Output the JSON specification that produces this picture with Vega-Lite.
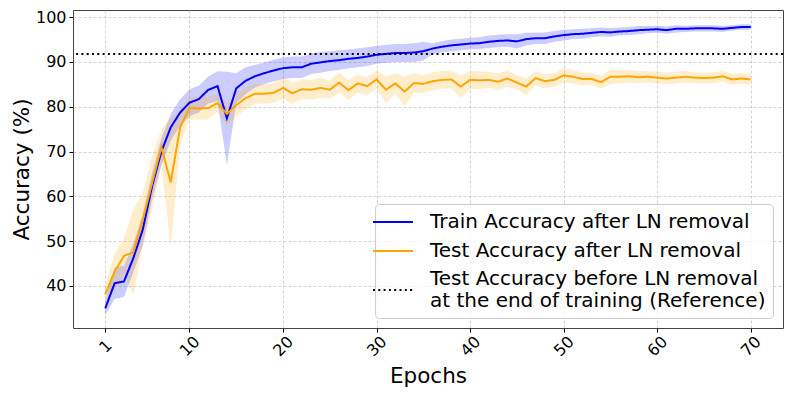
{
  "$schema": "https://vega.github.io/schema/vega-lite/v6.json",
  "width": 710,
  "height": 318,
  "autosize": {"type": "none"},
  "padding": {"left": 73, "top": 10, "right": 10, "bottom": 69},
  "datasets": {
    "m": [
      {"e":1,"s":"train","a":35.0,"lo":33.5,"hi":36.5},
      {"e":2,"s":"train","a":40.6,"lo":37.1,"hi":44.1},
      {"e":3,"s":"train","a":41.0,"lo":37.5,"hi":44.5},
      {"e":4,"s":"train","a":46.2,"lo":43.0,"hi":49.4},
      {"e":5,"s":"train","a":52.5,"lo":49.0,"hi":56.0},
      {"e":6,"s":"train","a":62.2,"lo":59.2,"hi":65.2},
      {"e":7,"s":"train","a":70.0,"lo":67.0,"hi":73.0},
      {"e":8,"s":"train","a":75.4,"lo":72.4,"hi":78.4},
      {"e":9,"s":"train","a":78.7,"lo":75.7,"hi":81.7},
      {"e":10,"s":"train","a":80.9,"lo":77.9,"hi":83.9},
      {"e":11,"s":"train","a":81.7,"lo":78.7,"hi":84.7},
      {"e":12,"s":"train","a":83.75,"lo":80.75,"hi":86.75},
      {"e":13,"s":"train","a":84.6,"lo":81.3,"hi":87.9},
      {"e":14,"s":"train","a":77.4,"lo":67.0,"hi":87.8},
      {"e":15,"s":"train","a":84.1,"lo":80.7,"hi":87.5},
      {"e":16,"s":"train","a":85.8,"lo":82.8,"hi":88.8},
      {"e":17,"s":"train","a":86.8,"lo":84.3,"hi":89.3},
      {"e":18,"s":"train","a":87.5,"lo":85.1,"hi":89.9},
      {"e":19,"s":"train","a":88.1,"lo":85.7,"hi":90.5},
      {"e":20,"s":"train","a":88.6,"lo":86.2,"hi":91.0},
      {"e":21,"s":"train","a":88.8,"lo":86.4,"hi":91.2},
      {"e":22,"s":"train","a":88.8,"lo":86.4,"hi":91.2},
      {"e":23,"s":"train","a":89.6,"lo":87.3,"hi":91.9},
      {"e":24,"s":"train","a":89.9,"lo":87.6,"hi":92.2},
      {"e":25,"s":"train","a":90.2,"lo":88.0,"hi":92.4},
      {"e":26,"s":"train","a":90.4,"lo":88.2,"hi":92.6},
      {"e":27,"s":"train","a":90.7,"lo":88.6,"hi":92.8},
      {"e":28,"s":"train","a":90.9,"lo":88.8,"hi":93.0},
      {"e":29,"s":"train","a":91.2,"lo":89.1,"hi":93.3},
      {"e":30,"s":"train","a":91.6,"lo":89.6,"hi":93.6},
      {"e":31,"s":"train","a":91.8,"lo":89.8,"hi":93.8},
      {"e":32,"s":"train","a":92.0,"lo":90.0,"hi":94.0},
      {"e":33,"s":"train","a":92.0,"lo":90.0,"hi":94.0},
      {"e":34,"s":"train","a":92.1,"lo":90.0,"hi":94.2},
      {"e":35,"s":"train","a":92.4,"lo":90.3,"hi":94.5},
      {"e":36,"s":"train","a":93.0,"lo":91.8,"hi":94.2},
      {"e":37,"s":"train","a":93.4,"lo":92.1,"hi":94.7},
      {"e":38,"s":"train","a":93.7,"lo":92.4,"hi":95.0},
      {"e":39,"s":"train","a":93.9,"lo":92.6,"hi":95.2},
      {"e":40,"s":"train","a":94.1,"lo":92.8,"hi":95.4},
      {"e":41,"s":"train","a":94.2,"lo":92.9,"hi":95.5},
      {"e":42,"s":"train","a":94.5,"lo":93.1,"hi":95.9},
      {"e":43,"s":"train","a":94.7,"lo":93.3,"hi":96.1},
      {"e":44,"s":"train","a":94.8,"lo":93.4,"hi":96.2},
      {"e":45,"s":"train","a":94.6,"lo":93.0,"hi":96.2},
      {"e":46,"s":"train","a":95.1,"lo":93.7,"hi":96.5},
      {"e":47,"s":"train","a":95.3,"lo":94.0,"hi":96.6},
      {"e":48,"s":"train","a":95.3,"lo":94.0,"hi":96.6},
      {"e":49,"s":"train","a":95.7,"lo":94.5,"hi":96.9},
      {"e":50,"s":"train","a":96.0,"lo":94.8,"hi":97.2},
      {"e":51,"s":"train","a":96.2,"lo":95.1,"hi":97.3},
      {"e":52,"s":"train","a":96.3,"lo":95.2,"hi":97.4},
      {"e":53,"s":"train","a":96.5,"lo":95.5,"hi":97.5},
      {"e":54,"s":"train","a":96.7,"lo":95.7,"hi":97.7},
      {"e":55,"s":"train","a":96.6,"lo":95.6,"hi":97.6},
      {"e":56,"s":"train","a":96.8,"lo":95.9,"hi":97.7},
      {"e":57,"s":"train","a":96.9,"lo":96.0,"hi":97.8},
      {"e":58,"s":"train","a":97.1,"lo":96.2,"hi":98.0},
      {"e":59,"s":"train","a":97.2,"lo":96.4,"hi":98.0},
      {"e":60,"s":"train","a":97.3,"lo":96.5,"hi":98.1},
      {"e":61,"s":"train","a":97.1,"lo":96.3,"hi":97.9},
      {"e":62,"s":"train","a":97.4,"lo":96.6,"hi":98.2},
      {"e":63,"s":"train","a":97.4,"lo":96.7,"hi":98.1},
      {"e":64,"s":"train","a":97.5,"lo":96.8,"hi":98.2},
      {"e":65,"s":"train","a":97.5,"lo":96.8,"hi":98.2},
      {"e":66,"s":"train","a":97.5,"lo":96.8,"hi":98.2},
      {"e":67,"s":"train","a":97.4,"lo":96.7,"hi":98.1},
      {"e":68,"s":"train","a":97.6,"lo":97.0,"hi":98.2},
      {"e":69,"s":"train","a":97.8,"lo":97.2,"hi":98.4},
      {"e":70,"s":"train","a":97.8,"lo":97.2,"hi":98.4},
      {"e":1,"s":"test","a":38.1,"lo":36.1,"hi":40.1},
      {"e":2,"s":"test","a":43.2,"lo":39.2,"hi":47.2},
      {"e":3,"s":"test","a":46.7,"lo":42.7,"hi":50.7},
      {"e":4,"s":"test","a":47.5,"lo":38.0,"hi":57.0},
      {"e":5,"s":"test","a":54.7,"lo":48.7,"hi":60.7},
      {"e":6,"s":"test","a":62.9,"lo":56.9,"hi":68.9},
      {"e":7,"s":"test","a":71.0,"lo":67.0,"hi":75.0},
      {"e":8,"s":"test","a":63.1,"lo":48.8,"hi":77.4},
      {"e":9,"s":"test","a":75.4,"lo":71.4,"hi":79.4},
      {"e":10,"s":"test","a":79.7,"lo":77.2,"hi":82.2},
      {"e":11,"s":"test","a":79.6,"lo":77.1,"hi":82.1},
      {"e":12,"s":"test","a":79.7,"lo":77.2,"hi":82.2},
      {"e":13,"s":"test","a":80.8,"lo":78.8,"hi":82.8},
      {"e":14,"s":"test","a":78.4,"lo":75.9,"hi":80.9},
      {"e":15,"s":"test","a":80.4,"lo":77.9,"hi":82.9},
      {"e":16,"s":"test","a":81.9,"lo":79.4,"hi":84.4},
      {"e":17,"s":"test","a":82.9,"lo":80.7,"hi":85.1},
      {"e":18,"s":"test","a":82.9,"lo":80.7,"hi":85.1},
      {"e":19,"s":"test","a":83.1,"lo":80.9,"hi":85.3},
      {"e":20,"s":"test","a":84.2,"lo":81.8,"hi":86.6},
      {"e":21,"s":"test","a":83.0,"lo":80.6,"hi":85.4},
      {"e":22,"s":"test","a":83.9,"lo":81.7,"hi":86.1},
      {"e":23,"s":"test","a":83.8,"lo":81.6,"hi":86.0},
      {"e":24,"s":"test","a":84.2,"lo":82.0,"hi":86.4},
      {"e":25,"s":"test","a":83.8,"lo":81.8,"hi":85.8},
      {"e":26,"s":"test","a":85.4,"lo":83.2,"hi":87.6},
      {"e":27,"s":"test","a":83.7,"lo":81.5,"hi":85.9},
      {"e":28,"s":"test","a":85.2,"lo":83.2,"hi":87.2},
      {"e":29,"s":"test","a":84.6,"lo":82.6,"hi":86.6},
      {"e":30,"s":"test","a":86.1,"lo":84.1,"hi":88.1},
      {"e":31,"s":"test","a":83.8,"lo":80.8,"hi":86.8},
      {"e":32,"s":"test","a":85.2,"lo":83.0,"hi":87.4},
      {"e":33,"s":"test","a":83.4,"lo":80.1,"hi":86.7},
      {"e":34,"s":"test","a":85.3,"lo":83.1,"hi":87.5},
      {"e":35,"s":"test","a":85.1,"lo":83.1,"hi":87.1},
      {"e":36,"s":"test","a":85.7,"lo":83.7,"hi":87.7},
      {"e":37,"s":"test","a":86.0,"lo":84.0,"hi":88.0},
      {"e":38,"s":"test","a":86.1,"lo":84.1,"hi":88.1},
      {"e":39,"s":"test","a":84.5,"lo":82.0,"hi":87.0},
      {"e":40,"s":"test","a":86.0,"lo":84.0,"hi":88.0},
      {"e":41,"s":"test","a":85.9,"lo":83.9,"hi":87.9},
      {"e":42,"s":"test","a":86.0,"lo":84.2,"hi":87.8},
      {"e":43,"s":"test","a":85.6,"lo":83.8,"hi":87.4},
      {"e":44,"s":"test","a":86.3,"lo":84.5,"hi":88.1},
      {"e":45,"s":"test","a":85.4,"lo":83.8,"hi":87.0},
      {"e":46,"s":"test","a":84.5,"lo":82.7,"hi":86.3},
      {"e":47,"s":"test","a":86.4,"lo":84.8,"hi":88.0},
      {"e":48,"s":"test","a":85.7,"lo":84.1,"hi":87.3},
      {"e":49,"s":"test","a":86.0,"lo":84.5,"hi":87.5},
      {"e":50,"s":"test","a":87.0,"lo":85.4,"hi":88.6},
      {"e":51,"s":"test","a":86.7,"lo":85.2,"hi":88.2},
      {"e":52,"s":"test","a":86.2,"lo":84.8,"hi":87.6},
      {"e":53,"s":"test","a":86.2,"lo":84.8,"hi":87.6},
      {"e":54,"s":"test","a":85.5,"lo":84.1,"hi":86.9},
      {"e":55,"s":"test","a":86.7,"lo":85.1,"hi":88.3},
      {"e":56,"s":"test","a":86.7,"lo":85.2,"hi":88.2},
      {"e":57,"s":"test","a":86.8,"lo":85.4,"hi":88.2},
      {"e":58,"s":"test","a":86.6,"lo":85.3,"hi":87.9},
      {"e":59,"s":"test","a":86.7,"lo":85.4,"hi":88.0},
      {"e":60,"s":"test","a":86.5,"lo":85.2,"hi":87.8},
      {"e":61,"s":"test","a":86.3,"lo":85.0,"hi":87.6},
      {"e":62,"s":"test","a":86.5,"lo":85.2,"hi":87.8},
      {"e":63,"s":"test","a":86.7,"lo":85.4,"hi":88.0},
      {"e":64,"s":"test","a":86.5,"lo":85.3,"hi":87.7},
      {"e":65,"s":"test","a":86.4,"lo":85.2,"hi":87.6},
      {"e":66,"s":"test","a":86.5,"lo":85.3,"hi":87.7},
      {"e":67,"s":"test","a":86.8,"lo":85.6,"hi":88.0},
      {"e":68,"s":"test","a":86.1,"lo":84.9,"hi":87.3},
      {"e":69,"s":"test","a":86.3,"lo":85.1,"hi":87.5},
      {"e":70,"s":"test","a":86.1,"lo":84.9,"hi":87.3}
    ],
    "r": [
      {"s": "ref", "a": 91.75}
    ]
  },
  "layer": [
    {
      "data": {"name": "m"},
      "mark": {"type": "area", "opacity": 0.2},
      "encoding": {
        "x": {"field": "e", "type": "quantitative",
          "scale": {"domain": [-2.45, 73.45], "nice": false, "zero": false},
          "axis": {"values": [1, 10, 20, 30, 40, 50, 60, 70], "labelAngle": -45, "labelAlign": "center", "labelBaseline": "middle", "labelPadding": 14, "labelFlush": false, "labelOverlap": false, "title": "Epochs", "titleY": 54, "titleBaseline": "alphabetic"}},
        "y": {"field": "lo", "type": "quantitative",
          "scale": {"domain": [30.6, 101.6], "nice": false, "zero": false},
          "axis": {"values": [40, 50, 60, 70, 80, 90, 100], "labelPadding": 3, "title": "Accuracy (%)", "titleX": -45, "titleY": 159, "titleAngle": -90, "titleAlign": "center", "titleBaseline": "alphabetic"}},
        "y2": {"field": "hi"},
        "color": {"field": "s", "type": "nominal",
          "scale": {"domain": ["train", "test", "ref"], "range": ["#0000ff", "#ffa500", "#000000"]},
          "legend": {"title": null, "labelExpr": "datum.label == 'train' ? 'Train Accuracy after LN removal' : datum.label == 'test' ? 'Test Accuracy after LN removal' : ['Test Accuracy before LN removal', 'at the end of training (Reference)']",
            "encode": {"labels": {"update": {"dy": {"signal": "datum.value == 'ref' ? -11 : 0"}, "lineHeight": {"value": 22}}}}}}
      }
    },
    {
      "data": {"name": "m"},
      "mark": {"type": "line", "strokeWidth": 2},
      "encoding": {
        "x": {"field": "e", "type": "quantitative"},
        "y": {"field": "a", "type": "quantitative"},
        "color": {"field": "s", "type": "nominal"},
        "strokeDash": {"field": "s", "type": "nominal",
          "scale": {"domain": ["train", "test", "ref"], "range": [[1, 0], [1, 0], [2, 3.3]]},
          "legend": {"title": null, "labelExpr": "datum.label == 'train' ? 'Train Accuracy after LN removal' : datum.label == 'test' ? 'Test Accuracy after LN removal' : ['Test Accuracy before LN removal', 'at the end of training (Reference)']",
            "encode": {"labels": {"update": {"dy": {"signal": "datum.value == 'ref' ? -11 : 0"}, "lineHeight": {"value": 22}}}}}}
      }
    },
    {
      "data": {"name": "r"},
      "mark": {"type": "rule", "strokeWidth": 2},
      "encoding": {
        "y": {"field": "a", "type": "quantitative"},
        "color": {"field": "s", "type": "nominal"},
        "strokeDash": {"field": "s", "type": "nominal"}
      }
    }
  ],
  "config": {
    "font": "DejaVu Sans",
    "view": {"stroke": "#444444", "strokeWidth": 1},
    "axis": {
      "domain": false,
      "grid": true,
      "gridColor": "#c8c8c8",
      "gridDash": [3, 2],
      "gridWidth": 0.8,
      "ticks": true,
      "tickColor": "#000000",
      "tickSize": 4,
      "labelFontSize": 16,
      "labelColor": "#000000",
      "titleFontSize": 21.5,
      "titleFontWeight": "normal",
      "titleColor": "#000000"
    },
    "legend": {
      "orient": "bottom-right",
      "offset": 10,
      "padding": 7,
      "fillColor": "rgba(255,255,255,0.8)",
      "strokeColor": "#cccccc",
      "cornerRadius": 4,
      "labelFontSize": 20,
      "labelColor": "#000000",
      "labelLimit": 0,
      "symbolType": "M-2,0L2,0",
      "symbolSize": 400,
      "symbolStrokeWidth": 2,
      "symbolOpacity": 1,
      "symbolFillColor": "transparent",
      "labelOffset": 26,
      "rowPadding": 8
    }
  }
}
